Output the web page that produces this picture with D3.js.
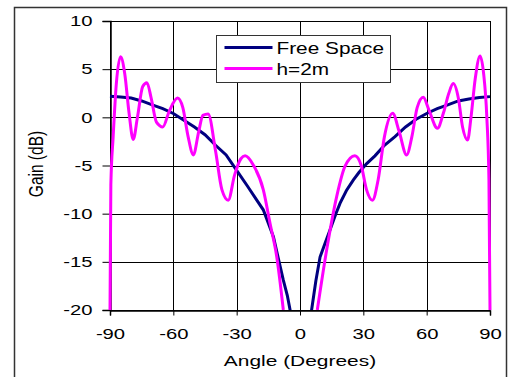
<!DOCTYPE html>
<html>
<head>
<meta charset="utf-8">
<script src="https://cdn.jsdelivr.net/npm/d3@7"></script>
<style>
  body { margin: 0; background: #fff; }
  text { font-family: "Liberation Sans", Arial, sans-serif; }
</style>
</head>
<body>
<svg id="chart" width="512" height="377"></svg>
<script>
const xTicks = [-90, -60, -30, 0, 30, 60, 90];
const yTicks = [-20, -15, -10, -5, 0, 5, 10];

// free space gain (angle, dB)
const freeAngle = [-90, -85, -80, -75, -70, -65, -60, -55, -50, -45, -40, -35, -30, -25, -20, -17.4, -15, -12.6, -10, -7.9, -6, -4.7, -3, 0,
  3, 5.5, 7.5, 9.5, 12, 14.2, 17, 19, 22, 25.3, 28, 31.6, 35.5, 40, 45, 50, 55, 60, 65, 70, 75, 80, 85, 90];
const freeGain = [2.2, 2.1, 2.0, 1.7, 1.3, 0.9, 0.4, -0.3, -1.0, -1.8, -2.9, -3.9, -5.5, -7.1, -8.75, -9.6, -11.0, -12.4, -14.9, -16.9, -18.5, -20, -30, -40,
  -30, -20, -17, -14.5, -13, -11.7, -10, -8.9, -7.6, -6.5, -5.7, -4.8, -4.0, -2.9, -2.0, -1.0, -0.2, 0.4, 0.9, 1.3, 1.7, 1.9, 2.05, 2.15];

// h=2m gain (angle, dB)
const hAngle = [-90, -89.6, -88.5, -87, -85, -83, -81, -79, -77, -74.5, -72.5, -70.5, -68, -65, -62, -58, -55.5, -53, -50.5, -48, -46, -43.5,
  -40, -37, -34, -31, -28, -26, -22, -17.4, -14.2, -11, -7.9,
  8.2, 12.6, 17.4, 21.3, 26, 29, 31.5, 34.3, 37, 40, 43.9, 47, 50.5, 53, 55.5, 58.4, 61, 65.1, 68, 70.5, 72.6, 75, 77, 79.4,
  81, 83, 85.3, 87, 88.5, 89.5, 90];
const hGain = [-20, -7, -2, 3.5, 6.3, 4.5, 0.5, -2.3, 0, 3.2, 3.6, 2, -0.5, -1.0, 0.6, 2.0, 1, -2, -3.9, -1.5, 0.2, 0.35,
  -3.5, -7.5, -8.6, -6, -4.3, -4.0, -5, -7.5, -11.0, -14.5, -20,
  -20, -13.8, -8.2, -5.1, -4.0, -5.0, -7.5, -8.6, -6.5, -2, 0.42, -1.5, -3.9, -2, 1, 2.08, 0.8, -1.14, 0.5, 2.5, 3.5, 2, -1, -2.35,
  0, 4, 6.37, 4.5, 0, -6.5, -20];

const svg = d3.select('#chart');
const fmt = d => String(d);

// outer frame
svg.append('rect')
  .attr('x', 14.5).attr('y', 7.5)
  .attr('width', 492).attr('height', 390)
  .attr('fill', 'none').attr('stroke', '#333').attr('stroke-width', 1.5);

const margin = { left: 110, right: 490, top: 21, bottom: 310 };
const x = d3.scaleLinear().domain([-90, 90]).range([margin.left, margin.right]);
const y = d3.scaleLinear().domain([-20, 10]).range([margin.bottom, margin.top]);

// grid
svg.append('g').selectAll('line').data(xTicks).enter().append('line')
  .attr('x1', d => Math.round(x(d)) + 0.5).attr('x2', d => Math.round(x(d)) + 0.5)
  .attr('y1', margin.top).attr('y2', margin.bottom)
  .attr('stroke', '#000').attr('stroke-width', 1);
svg.append('g').selectAll('line').data(yTicks).enter().append('line')
  .attr('y1', d => Math.round(y(d)) + 0.5).attr('y2', d => Math.round(y(d)) + 0.5)
  .attr('x1', margin.left).attr('x2', margin.right)
  .attr('stroke', '#000').attr('stroke-width', 1);

// axes (text is wide in the original, hence the horizontal stretch)
svg.append('g')
  .attr('transform', `translate(0,${Math.round(y(-20)) + 0.5})`)
  .call(d3.axisBottom(x).tickValues(xTicks).tickSize(5).tickPadding(13).tickFormat(fmt))
  .call(g => g.select('.domain').attr('stroke', '#000').attr('stroke-width', 1.5))
  .call(g => g.selectAll('text').attr('font-size', 15).attr('fill', '#000')
    .attr('font-family', '"Liberation Sans", Arial, sans-serif')
    .attr('transform', 'scale(1.35,1)'));

svg.append('g')
  .attr('transform', `translate(${Math.round(x(-90)) + 0.5},0)`)
  .call(d3.axisLeft(y).tickValues(yTicks).tickSize(8).tickFormat(fmt))
  .call(g => g.select('.domain').attr('stroke', '#000').attr('stroke-width', 1.5))
  .call(g => g.selectAll('text').attr('font-size', 15).attr('fill', '#000')
    .attr('font-family', '"Liberation Sans", Arial, sans-serif')
    .attr('x', 0).attr('transform', 'translate(-18,0) scale(1.35,1)'));

// clip for curves
svg.append('clipPath').attr('id', 'plotclip').append('rect')
  .attr('x', margin.left - 3).attr('y', margin.top)
  .attr('width', margin.right - margin.left + 6).attr('height', margin.bottom - margin.top);

const freeData = freeAngle.map((a, i) => [a, freeGain[i]]);
const hData = hAngle.map((a, i) => [a, hGain[i]]);
const hLeft = hData.filter(d => d[0] < 0);
const hRight = hData.filter(d => d[0] > 0);

const lineFree = d3.line().x(d => x(d[0])).y(d => y(d[1]));
const lineH = d3.line().x(d => x(d[0])).y(d => y(d[1])).curve(d3.curveMonotoneX);

const plot = svg.append('g').attr('clip-path', 'url(#plotclip)');
plot.append('path').datum(freeData)
  .attr('d', lineFree).attr('fill', 'none').attr('stroke', '#000080').attr('stroke-width', 3);
[hLeft, hRight].forEach(seg => {
  plot.append('path').datum(seg)
    .attr('d', lineH).attr('fill', 'none').attr('stroke', '#ff00ff').attr('stroke-width', 3);
});

// legend
const legend = svg.append('g').attr('transform', 'translate(216.5,35.5)');
legend.append('rect').attr('width', 174).attr('height', 47)
  .attr('fill', '#fff').attr('stroke', '#333').attr('stroke-width', 1);
const legendItems = [
  { name: 'Free Space', color: '#000080' },
  { name: 'h=2m', color: '#ff00ff' }
];
legendItems.forEach((d, i) => {
  const yy = 12 + i * 21;
  legend.append('line').attr('x1', 8).attr('x2', 56).attr('y1', yy).attr('y2', yy)
    .attr('stroke', d.color).attr('stroke-width', 3);
  legend.append('text').attr('transform', `translate(60,${yy + 6}) scale(1.3,1)`)
    .attr('font-size', 16).attr('fill', '#000').text(d.name);
});

// axis titles
svg.append('text').attr('transform', 'translate(300,366) scale(1.35,1)').attr('text-anchor', 'middle')
  .attr('font-size', 15.5).attr('fill', '#000').text('Angle (Degrees)');
svg.append('text').attr('transform', 'translate(43,164) scale(1.35,1) rotate(-90)').attr('text-anchor', 'middle')
  .attr('font-size', 15.5).attr('fill', '#000').text('Gain (dB)');
</script>
</body>
</html>
